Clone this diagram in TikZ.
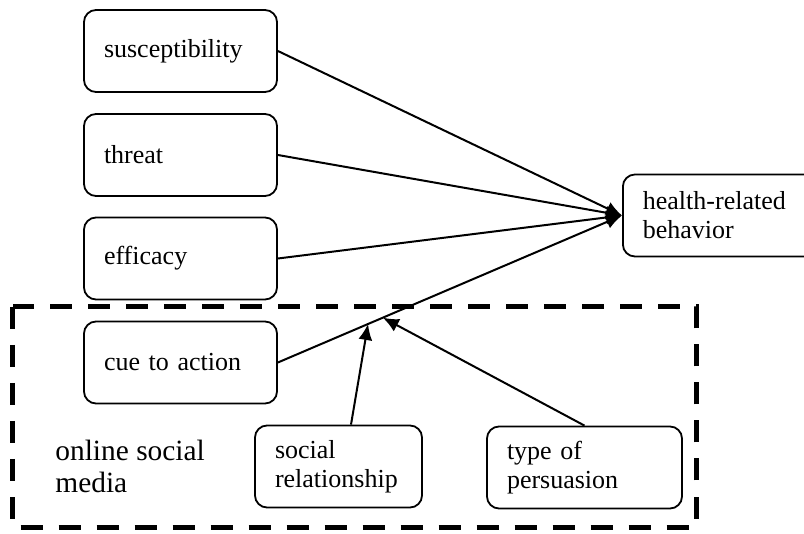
\documentclass[tikz,border=0pt]{standalone}
\usepackage{fontspec}
\setmainfont{Liberation Serif}
\usetikzlibrary{arrows.meta,calc}
\tikzset{
	box/.style={draw, line width=0.9pt, rounded corners=6pt, minimum height=41pt,
		inner xsep=10pt, inner ysep=2pt, align=left, font=\fontsize{13}{14.5}\selectfont},
	arr/.style={line width=1pt, -{Latex[length=8pt,width=7pt]}}
}
\begin{document}
\begin{tikzpicture}
			[x=0.5pt, y=-0.5pt]
			\clip (0,0) rectangle (804,534);
			\node[box, text width=76.5pt] (sus) at (180.5,51) {susceptibility};
			\node[box, text width=76.5pt] (thr) at (180.5,155) {threat};
			\node[box, text width=76.5pt] (eff) at (180.5,258.5) {efficacy};
			\node[box, text width=76.5pt] (cue) at (180.5,362.5) {cue to action};
			\node[box, text width=85pt, anchor=west] (hrb) at (622,215.5) {health-related\\behavior};
			\node[box, text width=63.5pt] (soc) at (338.5,466.5) {social\\relationship};
			\node[box, text width=77.5pt] (per) at (584.5,467.5) {type of\\persuasion};
			\node[anchor=west, inner sep=0pt, align=left, font=\fontsize{14.7}{16}\selectfont] (osm) at (55,466) {online social\\media};
			\draw[line width=2.5pt, dash pattern=on 11pt off 8pt] (12.5,307) rectangle (696,527);
			\coordinate (m1) at ($(cue.east)!0.262!(hrb.west)$);
			\coordinate (m2) at ($(cue.east)!0.305!(hrb.west)$);
			\draw[arr] (sus.east) -- (hrb.west);
			\draw[arr] (thr.east) -- (hrb.west);
			\draw[arr] (eff.east) -- (hrb.west);
			\draw[arr] (cue.east) -- (hrb.west);
			\draw[arr] ([xshift=6.25pt]soc.north) -- (m1);
			\draw[arr] (per.north) -- (m2);
		\end{tikzpicture}
\end{document}
